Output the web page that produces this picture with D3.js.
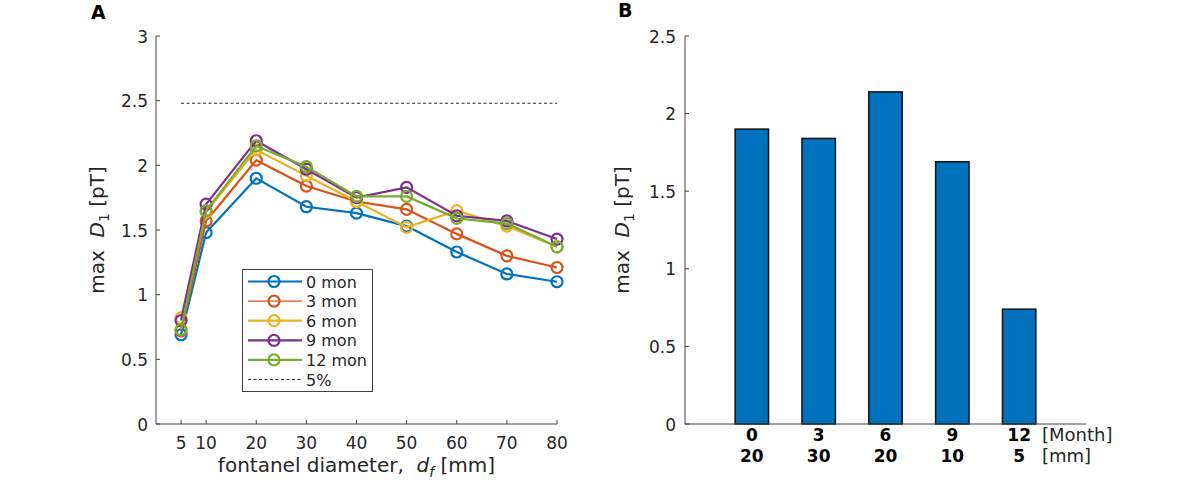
<!DOCTYPE html>
<html>
<head>
<meta charset="utf-8">
<script src="https://cdn.jsdelivr.net/npm/d3@7"></script>
<style>
  body { margin: 0; background: #fff; }
  svg { font-family: "DejaVu Sans", sans-serif; }
</style>
</head>
<body>
<svg width="1200" height="489"></svg>
<script>
// panel A data
var diameters = [5, 10, 20, 30, 40, 50, 60, 70, 80];
var seriesNames = ["0 mon", "3 mon", "6 mon", "9 mon", "12 mon"];
var mon0 = [0.69, 1.48, 1.90, 1.68, 1.63, 1.53, 1.33, 1.16, 1.10];
var mon3 = [0.72, 1.57, 2.04, 1.84, 1.72, 1.66, 1.47, 1.30, 1.21];
var mon6 = [0.82, 1.64, 2.12, 1.92, 1.72, 1.52, 1.65, 1.53, 1.37];
var mon9 = [0.80, 1.70, 2.19, 1.97, 1.75, 1.83, 1.61, 1.57, 1.43];
var mon12 = [0.73, 1.65, 2.15, 1.99, 1.76, 1.76, 1.59, 1.55, 1.37];
var threshold = 2.48;
var yTicksA = [0, 0.5, 1, 1.5, 2, 2.5, 3];

// panel B data
var barMonths = ["0", "3", "6", "9", "12"];
var barDiams = ["20", "30", "20", "10", "5"];
var barValues = [1.90, 1.84, 2.14, 1.69, 0.74];
var yTicksB = [0, 0.5, 1, 1.5, 2, 2.5];

var colors = ["#0072BD", "#D95319", "#EDB120", "#7E2F8E", "#77AC30"];
var series = [mon0, mon3, mon6, mon9, mon12];
var axisColor = "#404040";
var textColor = "#262626";
var tickSize = "17px";

var svg = d3.select("svg");

// ---------- panel A ----------
var xA = d3.scaleLinear().domain([0, 80]).range([156, 557]);
var yA = d3.scaleLinear().domain([0, 3]).range([424, 36]);

var gA = svg.append("g");

gA.append("line")
  .attr("x1", xA(0)).attr("x2", xA(0))
  .attr("y1", yA(0)).attr("y2", yA(3))
  .attr("stroke", axisColor);
gA.append("line")
  .attr("x1", xA(0)).attr("x2", xA(80))
  .attr("y1", yA(0)).attr("y2", yA(0))
  .attr("stroke", axisColor);

gA.selectAll(".ytick").data(yTicksA).enter().append("line")
  .attr("x1", xA(0)).attr("x2", xA(0) + 4)
  .attr("y1", d => yA(d)).attr("y2", d => yA(d))
  .attr("stroke", axisColor);
gA.selectAll(".ylab").data(yTicksA).enter().append("text")
  .text(d => d)
  .attr("x", 148).attr("y", d => yA(d) + 6.5)
  .attr("text-anchor", "end")
  .attr("fill", textColor)
  .style("font-size", tickSize);

gA.selectAll(".xtick").data(diameters).enter().append("line")
  .attr("x1", d => xA(d)).attr("x2", d => xA(d))
  .attr("y1", yA(0)).attr("y2", yA(0) - 4)
  .attr("stroke", axisColor);
gA.selectAll(".xlab").data(diameters).enter().append("text")
  .text(d => d)
  .attr("x", d => xA(d)).attr("y", 449)
  .attr("text-anchor", "middle")
  .attr("fill", textColor)
  .style("font-size", tickSize);

// threshold line
gA.append("line")
  .attr("x1", xA(5)).attr("x2", xA(80))
  .attr("y1", yA(threshold)).attr("y2", yA(threshold))
  .attr("stroke", textColor)
  .attr("stroke-dasharray", "3,2.5");

var line = d3.line()
  .x((d, i) => xA(diameters[i]))
  .y(d => yA(d));

series.forEach((s, k) => {
  gA.append("path")
    .datum(s)
    .attr("d", line)
    .attr("fill", "none")
    .attr("stroke", colors[k])
    .attr("stroke-width", 2.2);
  gA.selectAll(".pt" + k).data(s).enter().append("circle")
    .attr("cx", (d, i) => xA(diameters[i]))
    .attr("cy", d => yA(d))
    .attr("r", 5.5)
    .attr("fill", "none")
    .attr("stroke", colors[k])
    .attr("stroke-width", 2.2);
});

// legend
var leg = gA.append("g");
leg.append("rect")
  .attr("x", 242.5).attr("y", 269.5)
  .attr("width", 130).attr("height", 122)
  .attr("fill", "#fff")
  .attr("stroke", axisColor);
seriesNames.forEach((n, k) => {
  var ly = 281.5 + k * 19.6;
  leg.append("line")
    .attr("x1", 248).attr("x2", 302)
    .attr("y1", ly).attr("y2", ly)
    .attr("stroke", colors[k])
    .attr("stroke-width", k == 1 ? 1.3 : 2.2);
  leg.append("circle")
    .attr("cx", 274).attr("cy", ly).attr("r", 5.5)
    .attr("fill", "none")
    .attr("stroke", colors[k])
    .attr("stroke-width", 2.2);
  leg.append("text")
    .text(n)
    .attr("x", 306).attr("y", ly + 6)
    .attr("fill", textColor)
    .style("font-size", "16px");
});
leg.append("line")
  .attr("x1", 248).attr("x2", 302)
  .attr("y1", 379.5).attr("y2", 379.5)
  .attr("stroke", textColor)
  .attr("stroke-dasharray", "3,2.5");
leg.append("text")
  .text("5%")
  .attr("x", 306).attr("y", 385.5)
  .attr("fill", textColor)
  .style("font-size", "16px");

function yLabel(g, x) {
  var t = g.append("text")
    .attr("transform", "translate(" + x + ",230) rotate(-90)")
    .attr("text-anchor", "middle")
    .attr("fill", textColor)
    .style("font-size", "20px");
  t.append("tspan").text("max\u00a0\u00a0");
  t.append("tspan").text("D").style("font-style", "italic");
  t.append("tspan").text("1").attr("dy", 5).style("font-size", "14px");
  t.append("tspan").text("\u00a0[pT]").attr("dy", -5);
}

yLabel(gA, 104);

var xlabA = gA.append("text")
  .attr("x", 356.5).attr("y", 472)
  .attr("text-anchor", "middle")
  .attr("fill", textColor)
  .style("font-size", "20px");
xlabA.append("tspan").text("fontanel diameter,\u00a0\u00a0");
xlabA.append("tspan").text("d").style("font-style", "italic");
xlabA.append("tspan").text("f").attr("dy", 5).style("font-size", "14px").style("font-style", "italic");
xlabA.append("tspan").text("\u00a0[mm]").attr("dy", -5);

svg.append("text").text("A")
  .attr("x", 91).attr("y", 18.5)
  .style("font-weight", "bold")
  .style("font-size", "19px");

// ---------- panel B ----------
var xB = d3.scaleLinear().domain([0, 6]).range([685, 1086]);
var yB = d3.scaleLinear().domain([0, 2.5]).range([424, 36]);
var barW = xB(1.5) - xB(1);

var gB = svg.append("g");

gB.selectAll(".bar").data(barValues).enter().append("rect")
  .attr("x", (d, i) => xB(i + 1) - barW / 2)
  .attr("y", d => yB(d))
  .attr("width", barW)
  .attr("height", d => yB(0) - yB(d))
  .attr("fill", "#0072BD")
  .attr("stroke", "#111")
  .attr("stroke-width", 1.5);

gB.append("line")
  .attr("x1", xB(0)).attr("x2", xB(0))
  .attr("y1", yB(0)).attr("y2", yB(2.5))
  .attr("stroke", axisColor);
gB.append("line")
  .attr("x1", xB(0)).attr("x2", xB(6))
  .attr("y1", yB(0)).attr("y2", yB(0))
  .attr("stroke", axisColor);

gB.selectAll(".ytick").data(yTicksB).enter().append("line")
  .attr("x1", xB(0)).attr("x2", xB(0) + 4)
  .attr("y1", d => yB(d)).attr("y2", d => yB(d))
  .attr("stroke", axisColor);
gB.selectAll(".ylab").data(yTicksB).enter().append("text")
  .text(d => d)
  .attr("x", 676).attr("y", d => yB(d) + 6.5)
  .attr("text-anchor", "end")
  .attr("fill", textColor)
  .style("font-size", tickSize);

gB.selectAll(".mlab").data(barMonths).enter().append("text")
  .text(d => d)
  .attr("x", (d, i) => xB(i + 1)).attr("y", 441)
  .attr("text-anchor", "middle")
  .style("font-weight", "bold")
  .style("font-size", tickSize);
gB.selectAll(".dlab").data(barDiams).enter().append("text")
  .text(d => d)
  .attr("x", (d, i) => xB(i + 1)).attr("y", 462)
  .attr("text-anchor", "middle")
  .style("font-weight", "bold")
  .style("font-size", tickSize);
gB.append("text").text("[Month]")
  .attr("x", 1042).attr("y", 441)
  .attr("fill", textColor)
  .style("font-size", "18px");
gB.append("text").text("[mm]")
  .attr("x", 1042).attr("y", 462)
  .attr("fill", textColor)
  .style("font-size", "18px");

yLabel(gB, 629);

svg.append("text").text("B")
  .attr("x", 618).attr("y", 17)
  .style("font-weight", "bold")
  .style("font-size", "19px");
</script>
</body>
</html>
